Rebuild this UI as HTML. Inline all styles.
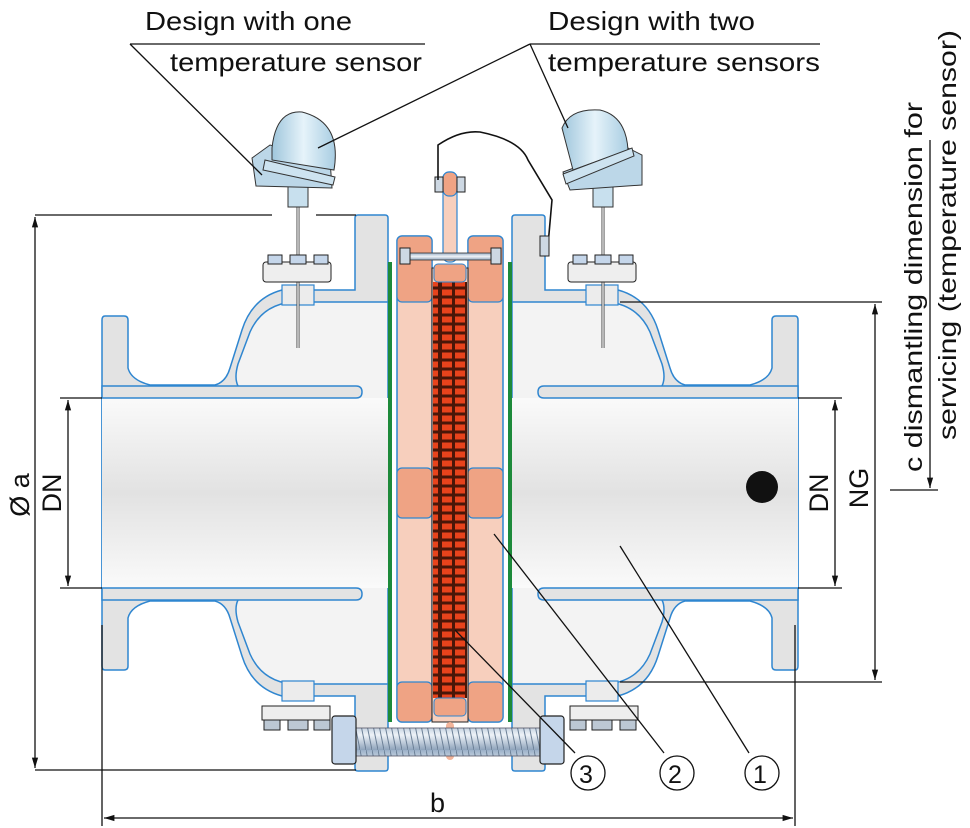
<!DOCTYPE html>
<html><head><meta charset="utf-8"><style>
html,body{margin:0;padding:0;background:#fff;}
svg{display:block;}
text{font-family:"Liberation Sans",Arial,sans-serif;fill:#111;}
</style></head><body>
<svg width="970" height="828" viewBox="0 0 970 828" xmlns="http://www.w3.org/2000/svg">
<defs>
<linearGradient id="bore" x1="0" y1="0" x2="0" y2="1">
<stop offset="0" stop-color="#fafafa"/><stop offset="0.5" stop-color="#e2e2e2"/><stop offset="1" stop-color="#fafafa"/>
</linearGradient>
<linearGradient id="head" x1="0" y1="0" x2="1" y2="0">
<stop offset="0" stop-color="#9fc6dc"/><stop offset="0.5" stop-color="#e6f3fa"/><stop offset="1" stop-color="#a8cde2"/>
</linearGradient>
<linearGradient id="bolt" x1="0" y1="0" x2="0" y2="1">
<stop offset="0" stop-color="#9bb0c8"/><stop offset="0.5" stop-color="#eef3f8"/><stop offset="1" stop-color="#8ea3bb"/>
</linearGradient>
<pattern id="coil" width="40" height="9" patternUnits="userSpaceOnUse">
<rect width="40" height="9" fill="#4a1608"/>
<rect x="2" y="1.5" width="10" height="6" fill="#e8431c"/>
<rect x="15" y="1.5" width="10" height="6" fill="#e8431c"/>
<rect x="28" y="1.5" width="10" height="6" fill="#e8431c"/>
</pattern>
<pattern id="thread" width="6" height="30" patternUnits="userSpaceOnUse">
<rect width="6" height="30" fill="url(#bolt)"/>
<line x1="0" y1="0" x2="6" y2="30" stroke="#6b7f96" stroke-width="1"/>
</pattern>
<marker id="ar" viewBox="0 0 10 10" refX="10" refY="5" markerWidth="8" markerHeight="8" orient="auto-start-reverse">
<path d="M0,2 L10,5 L0,8 Z" fill="#111"/>
</marker>
<g id="half">
<path d="M105,316 H124 Q128,316 128,320 V368 Q131,380 150,385 H215 Q226,382 230,368 L242,330 Q252,298 282,290 H355 V218 Q355,215 358,215 H385 Q388,215 388,218 V768 Q388,771 385,771 H358 Q355,771 355,768 V696 H282 Q252,688 242,656 L230,618 Q226,604 215,601 H150 Q131,606 128,618 V666 Q128,670 124,670 H105 Q102,670 102,666 V320 Q102,316 105,316 Z" fill="#e3e3e3" stroke="#2f86d0" stroke-width="1.5"/>
<path d="M102,398 H238 V386 Q234,378 238,364 L250,332 Q262,305 292,302 H388 V684 H292 Q262,681 250,654 L238,622 Q234,608 238,600 V588 H102 Z" fill="#f3f3f3" stroke="#2f86d0" stroke-width="1.5"/>
<rect x="102" y="398" width="286" height="190" fill="url(#bore)"/>
<path d="M102,386 H356 Q362,386 362,392 Q362,398 356,398 H102 Z" fill="#e3e3e3" stroke="#2f86d0" stroke-width="1.5"/>
<path d="M102,588 H356 Q362,588 362,594 Q362,600 356,600 H102 Z" fill="#e3e3e3" stroke="#2f86d0" stroke-width="1.5"/>
<rect x="282" y="285" width="32" height="20" fill="#ececec" stroke="#2f86d0" stroke-width="1.2"/>
<rect x="282" y="681" width="32" height="20" fill="#ececec" stroke="#2f86d0" stroke-width="1.2"/>
<rect x="262" y="706" width="68" height="14" fill="#eee" stroke="#222" stroke-width="1"/>
<rect x="264" y="720" width="16" height="10" fill="#bcc8d4" stroke="#222"/>
<rect x="288" y="720" width="20" height="10" fill="#bcc8d4" stroke="#222"/>
<rect x="314" y="720" width="16" height="10" fill="#bcc8d4" stroke="#222"/>
<rect x="388" y="262" width="4" height="460" fill="#1d8a3a"/>
</g>
</defs>

<use href="#half"/>
<use href="#half" transform="translate(900,0) scale(-1,1)"/>

<rect x="397" y="236" width="35" height="486" rx="5" fill="#f7cfbd" stroke="#2f86d0" stroke-width="1.5"/>
<rect x="468" y="236" width="35" height="486" rx="5" fill="#f7cfbd" stroke="#2f86d0" stroke-width="1.5"/>
<rect x="397" y="236" width="35" height="66" rx="5" fill="#efa384" stroke="#2f86d0" stroke-width="1.2"/>
<rect x="468" y="236" width="35" height="66" rx="5" fill="#efa384" stroke="#2f86d0" stroke-width="1.2"/>
<rect x="397" y="468" width="35" height="50" rx="5" fill="#efa384" stroke="#2f86d0" stroke-width="1.2"/>
<rect x="468" y="468" width="35" height="50" rx="5" fill="#efa384" stroke="#2f86d0" stroke-width="1.2"/>
<rect x="397" y="682" width="35" height="40" rx="5" fill="#efa384" stroke="#2f86d0" stroke-width="1.2"/>
<rect x="468" y="682" width="35" height="40" rx="5" fill="#efa384" stroke="#2f86d0" stroke-width="1.2"/>
<rect x="432" y="268" width="36" height="454" fill="#f7cfbd" stroke="#222" stroke-width="1"/>
<rect x="433" y="282" width="34" height="416" fill="url(#coil)"/>
<rect x="434" y="264" width="32" height="18" rx="4" fill="#efa384" stroke="#2f86d0"/>
<rect x="434" y="698" width="32" height="18" rx="4" fill="#efa384" stroke="#2f86d0"/>
<rect x="443" y="172" width="14" height="90" rx="6" fill="#f7cfbd" stroke="#2f86d0" stroke-width="1.2"/>
<rect x="443" y="172" width="14" height="24" rx="6" fill="#efa384" stroke="#2f86d0" stroke-width="1.2"/>
<rect x="435" y="177" width="8" height="15" fill="#cdd8e3" stroke="#222"/>
<rect x="457" y="177" width="8" height="15" fill="#cdd8e3" stroke="#222"/>
<rect x="446" y="722" width="8" height="38" rx="4" fill="#f2b49a"/>
<rect x="404" y="253" width="92" height="7" fill="url(#bolt)" stroke="#333" stroke-width="0.8"/>
<rect x="400" y="248" width="10" height="16" fill="#cdd8e3" stroke="#222"/>
<rect x="491" y="248" width="10" height="16" fill="#cdd8e3" stroke="#222"/>
<path d="M438,180 L438,145 Q460,130 480,132 Q520,140 528,160 L552,200 L548,245" fill="none" stroke="#111" stroke-width="1.6"/>
<rect x="540" y="236" width="9" height="20" fill="#cdd8e3" stroke="#222"/>

<rect x="352" y="728" width="190" height="28" fill="url(#thread)" stroke="#556" stroke-width="0.8"/>
<rect x="332" y="716" width="24" height="48" rx="3" fill="#c5d6ea" stroke="#222" stroke-width="1.2"/>
<rect x="540" y="716" width="24" height="48" rx="3" fill="#c5d6ea" stroke="#222" stroke-width="1.2"/>

<g>
<line x1="298" y1="200" x2="298" y2="348" stroke="#444" stroke-width="3"/>
<line x1="298" y1="200" x2="298" y2="348" stroke="#ddd" stroke-width="1.5"/>
<rect x="263" y="262" width="68" height="20" rx="3" fill="#eee" stroke="#222"/>
<rect x="268" y="255" width="14" height="9" fill="#c5d6ea" stroke="#222"/>
<rect x="290" y="255" width="16" height="9" fill="#c5d6ea" stroke="#222"/>
<rect x="314" y="255" width="14" height="9" fill="#c5d6ea" stroke="#222"/>
<rect x="288" y="185" width="20" height="22" fill="#c8e0ee" stroke="#333"/>
<path d="M252,158 L270,145 L330,160 L332,188 L256,186 Z" fill="#bcd7e8" stroke="#333"/>
<path d="M272,148 Q276,110 302,112 Q342,122 334,170 L272,160 Z" fill="url(#head)" stroke="#333"/>
<path d="M265,160 L335,177 L333,185 L263,170 Z" fill="#cde3f0" stroke="#333"/>
</g>
<g>
<line x1="603" y1="200" x2="603" y2="348" stroke="#444" stroke-width="3"/>
<line x1="603" y1="200" x2="603" y2="348" stroke="#ddd" stroke-width="1.5"/>
<rect x="568" y="262" width="68" height="20" rx="3" fill="#eee" stroke="#222"/>
<rect x="573" y="255" width="14" height="9" fill="#c5d6ea" stroke="#222"/>
<rect x="595" y="255" width="16" height="9" fill="#c5d6ea" stroke="#222"/>
<rect x="619" y="255" width="14" height="9" fill="#c5d6ea" stroke="#222"/>
<rect x="593" y="185" width="20" height="22" fill="#c8e0ee" stroke="#333"/>
<path d="M563,172 L628,148 L642,155 L642,185 L570,190 Z" fill="#bcd7e8" stroke="#333"/>
<path d="M562,128 Q570,108 600,110 Q626,116 628,150 L573,170 Z" fill="url(#head)" stroke="#333"/>
<path d="M563,174 L632,148 L634,156 L566,184 Z" fill="#cde3f0" stroke="#333"/>
</g>

<circle cx="762" cy="487" r="16" fill="#111"/>

<g stroke="#111" stroke-width="1.3" fill="none">
<line x1="35" y1="215" x2="272" y2="215"/><line x1="316" y1="215" x2="356" y2="215"/>
<line x1="35" y1="770" x2="356" y2="770"/>
<line x1="35" y1="217" x2="35" y2="768" marker-start="url(#ar)" marker-end="url(#ar)"/>
<line x1="60" y1="398" x2="102" y2="398"/><line x1="60" y1="588" x2="102" y2="588"/>
<line x1="68" y1="400" x2="68" y2="586" marker-start="url(#ar)" marker-end="url(#ar)"/>
<line x1="798" y1="398" x2="842" y2="398"/><line x1="798" y1="588" x2="842" y2="588"/>
<line x1="835" y1="400" x2="835" y2="586" marker-start="url(#ar)" marker-end="url(#ar)"/>
<line x1="620" y1="302" x2="882" y2="302"/><line x1="620" y1="682" x2="882" y2="682"/>
<line x1="875" y1="304" x2="875" y2="680" marker-start="url(#ar)" marker-end="url(#ar)"/>
<line x1="890" y1="490" x2="938" y2="490"/>
<line x1="930" y1="140" x2="930" y2="488" marker-end="url(#ar)"/>
<line x1="102" y1="625" x2="102" y2="826"/><line x1="795" y1="625" x2="795" y2="826"/>
<line x1="104" y1="818" x2="793" y2="818" marker-start="url(#ar)" marker-end="url(#ar)"/>
<line x1="130" y1="44" x2="425" y2="44"/>
<line x1="130" y1="44" x2="262" y2="175"/>
<line x1="530" y1="44" x2="820" y2="44"/>
<line x1="530" y1="44" x2="318" y2="148"/>
<line x1="530" y1="44" x2="568" y2="128"/>
<line x1="575" y1="753" x2="455" y2="630"/>
<line x1="664" y1="753" x2="494" y2="534"/>
<line x1="749" y1="753" x2="620" y2="546"/>
<circle cx="588" cy="773" r="17"/><circle cx="677" cy="773" r="17"/><circle cx="762" cy="773" r="17"/>
</g>

<text x="145" y="30" font-size="26" textLength="207" lengthAdjust="spacingAndGlyphs">Design with one</text>
<text x="170" y="71" font-size="26" textLength="252" lengthAdjust="spacingAndGlyphs">temperature sensor</text>
<text x="548" y="30" font-size="26" textLength="207" lengthAdjust="spacingAndGlyphs">Design with two</text>
<text x="548" y="71" font-size="26" textLength="272" lengthAdjust="spacingAndGlyphs">temperature sensors</text>
<text x="579" y="783" font-size="25">3</text>
<text x="668" y="783" font-size="25">2</text>
<text x="753" y="783" font-size="25">1</text>
<text x="430" y="812" font-size="27">b</text>
<text transform="translate(29,495) rotate(-90)" font-size="27" text-anchor="middle">Ø a</text>
<text transform="translate(61,493) rotate(-90)" font-size="27" text-anchor="middle">DN</text>
<text transform="translate(828,493) rotate(-90)" font-size="27" text-anchor="middle">DN</text>
<text transform="translate(868,488) rotate(-90)" font-size="27" text-anchor="middle">NG</text>
<text transform="translate(922,472) rotate(-90)" font-size="25" textLength="370" lengthAdjust="spacingAndGlyphs">c  dismantling dimension for</text>
<text transform="translate(956,440) rotate(-90)" font-size="25" textLength="410" lengthAdjust="spacingAndGlyphs">servicing  (temperature sensor)</text>
</svg>
</body></html>
